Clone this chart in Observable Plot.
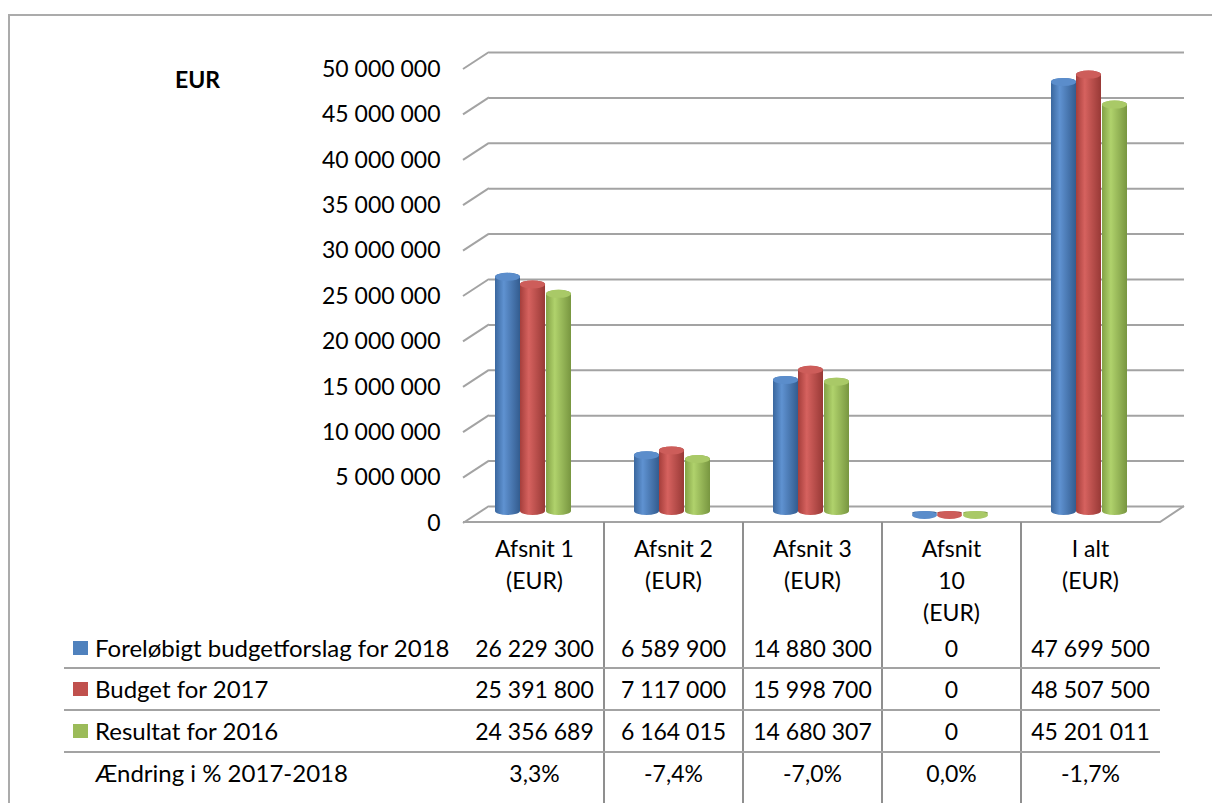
<!DOCTYPE html>
<html>
<head>
<meta charset="utf-8">
<script src="https://cdn.jsdelivr.net/npm/d3@7"></script>
<script src="https://cdn.jsdelivr.net/npm/@observablehq/plot@0.6"></script>
<style>
  html, body { margin: 0; padding: 0; background: #fff; overflow: hidden; }
  body { width: 1212px; height: 803px; position: relative; font-family: Lato, "Open Sans", sans-serif; color: #000; }
  #frame { position: absolute; left: 8px; top: 14px; width: 1300px; height: 900px; border: 2px solid #ababab; box-sizing: border-box; }
  #chart { position: absolute; left: 0; top: 0; }
  #eur { position: absolute; left: 175px; top: 65px; font-weight: bold; font-size: 23px; line-height: 28px; }
  .cell { position: absolute; text-align: center; font-size: 23px; white-space: nowrap; }
  .lbl { position: absolute; font-size: 24px; white-space: nowrap; }
  .sq { position: absolute; width: 15px; height: 14px; }
  .hl { position: absolute; height: 2px; background: #a3a3a3; }
  .vl { position: absolute; width: 2px; background: #8f8f8f; }
</style>
</head>
<body>
<svg width="0" height="0" style="position:absolute">
  <defs>
    <linearGradient id="g0" x1="0" x2="1" y1="0" y2="0">
      <stop offset="0" stop-color="#3a679e"/><stop offset="0.35" stop-color="#5f92d1"/><stop offset="1" stop-color="#335c8f"/>
    </linearGradient>
    <linearGradient id="g1" x1="0" x2="1" y1="0" y2="0">
      <stop offset="0" stop-color="#a53e3b"/><stop offset="0.35" stop-color="#d6625f"/><stop offset="1" stop-color="#983936"/>
    </linearGradient>
    <linearGradient id="g2" x1="0" x2="1" y1="0" y2="0">
      <stop offset="0" stop-color="#83a246"/><stop offset="0.35" stop-color="#b0d26c"/><stop offset="1" stop-color="#789640"/>
    </linearGradient>
  </defs>
</svg>
<div id="frame"></div>
<div id="chart"></div>
<div id="eur"></div>
<div id="table"></div>
<script>
// ---------- data ----------
const categories = ["Afsnit 1", "Afsnit 2", "Afsnit 3", "Afsnit 10", "I alt"];
const categoryLines = [["Afsnit 1", "(EUR)"], ["Afsnit 2", "(EUR)"], ["Afsnit 3", "(EUR)"], ["Afsnit", "10", "(EUR)"], ["I alt", "(EUR)"]];
const seriesNames = ["Foreløbigt budgetforslag for 2018", "Budget for 2017", "Resultat for 2016"];
const budget2018 = [26229300, 6589900, 14880300, 0, 47699500];
const budget2017 = [25391800, 7117000, 15998700, 0, 48507500];
const result2016 = [24356689, 6164015, 14680307, 0, 45201011];
const changeLabel = "Ændring i % 2017-2018";
const changePct = [3.3, -7.4, -7.0, 0.0, -1.7];
const yTicks = [0, 5000000, 10000000, 15000000, 20000000, 25000000, 30000000, 35000000, 40000000, 45000000, 50000000];
const yTitle = "EUR";

// ---------- style ----------
const seriesValues = [budget2018, budget2017, result2016];
const seriesColors = ["#4f81bd", "#c0504d", "#9bbb59"];
const capColors = ["#5b8dcb", "#cd5d5a", "#a9c967"];
const seriesDx = [-27, -2, 24];
const gridColor = "#a3a3a3";
const depthX = 24, depthY = 17;
const barDy = 9;

const loc = d3.formatLocale({decimal: ",", thousands: " ", grouping: [3], currency: ["", ""], minus: "-"});
const fmtInt = loc.format(",");
const fmtPct = d => loc.format(".1f")(d) + "%";

const W = 1212, H = 530, mL = 465, mR = 52, mT = 52, mB = 24;

const wallEdges = (index, scales, values, dims) => {
  const y = scales.y;
  const left = dims.marginLeft, right = dims.width - dims.marginRight;
  const g = d3.create("svg:g").attr("fill", "none").attr("stroke", gridColor).attr("stroke-width", 2);
  for (const t of yTicks) {
    g.append("path").attr("d", `M${left - 2},${y(t) + depthY}L${left + depthX},${y(t)}`);
  }
  const y0 = y(0);
  g.append("path").attr("d", `M${left - 2},${y0 + depthY - 1}L${right},${y0 + depthY - 1}L${right + depthX},${y0}`);
  return g.node();
};

const marks = [
  Plot.ruleY(yTicks, {y: d => d, dx: depthX, stroke: gridColor, strokeWidth: 2}),
  wallEdges,
  Plot.text(yTicks, {y: d => d, text: d => fmtInt(d), frameAnchor: "left", textAnchor: "end", dx: -25, dy: depthY, fill: "black"})
];
seriesValues.forEach((vals, k) => {
  const data = categories.map((c, i) => ({cat: c, v: vals[i]}));
  marks.push(Plot.barY(data, {x: "cat", y1: 0, y2: "v", dx: seriesDx[k], dy: barDy,
    insetLeft: 57, insetRight: 57, insetTop: -4, rx: 12.5, ry: 4, fill: `url(#g${k})`}));
  marks.push(Plot.barY(data, {x: "cat", y1: "v", y2: "v", dx: seriesDx[k], dy: barDy,
    insetLeft: 57, insetRight: 57, insetTop: -4, insetBottom: -4, rx: 12.5, ry: 4, fill: capColors[k]}));
});

const chart = Plot.plot({
  width: W, height: H,
  marginLeft: mL, marginRight: mR, marginTop: mT, marginBottom: mB,
  style: {background: "transparent", fontFamily: "Lato, 'Open Sans', sans-serif", fontSize: "23px", color: "black", overflow: "visible"},
  x: {type: "band", domain: categories, padding: 0, axis: null},
  y: {domain: [0, 50000000], axis: null},
  marks
});
document.getElementById("chart").appendChild(chart);
document.getElementById("eur").textContent = yTitle;

// ---------- data table ----------
const xBand = d3.scaleBand(categories, [mL, W - mR]);
const bw = xBand.bandwidth();
const floorY = 522;
const tableLeft = 64, tableRight = W - mR;
const rowCenters = [648, 689, 731, 773];
const rowLines = [668, 710, 752];
const tbl = d3.select("#table");

categories.forEach((c, i) => {
  tbl.append("div").attr("class", "cell")
    .style("left", xBand(c) + "px").style("width", bw + "px")
    .style("top", "532px").style("line-height", "32px")
    .html(categoryLines[i].join("<br>"));
});
categories.forEach((c, i) => {
  if (i > 0) tbl.append("div").attr("class", "vl")
    .style("left", (xBand(c) - 1) + "px").style("top", floorY + "px").style("height", (803 - floorY) + "px");
});
rowLines.forEach(y => {
  tbl.append("div").attr("class", "hl")
    .style("left", tableLeft + "px").style("width", (tableRight - tableLeft) + "px").style("top", (y - 1) + "px");
});
const rows = seriesValues.map((vals, k) => ({name: seriesNames[k], color: seriesColors[k], cells: vals.map(fmtInt)}));
rows.push({name: changeLabel, color: null, cells: changePct.map(fmtPct)});
rows.forEach((r, j) => {
  const cy = rowCenters[j];
  if (r.color) tbl.append("div").attr("class", "sq").style("left", "73px").style("top", (cy - 7) + "px").style("background", r.color);
  tbl.append("div").attr("class", "lbl").style("left", "95px").style("top", (cy - 16) + "px").style("line-height", "32px").text(r.name);
  categories.forEach((c, i) => {
    tbl.append("div").attr("class", "cell")
      .style("left", xBand(c) + "px").style("width", bw + "px")
      .style("top", (cy - 16) + "px").style("line-height", "32px")
      .text(r.cells[i]);
  });
});
</script>
</body>
</html>
